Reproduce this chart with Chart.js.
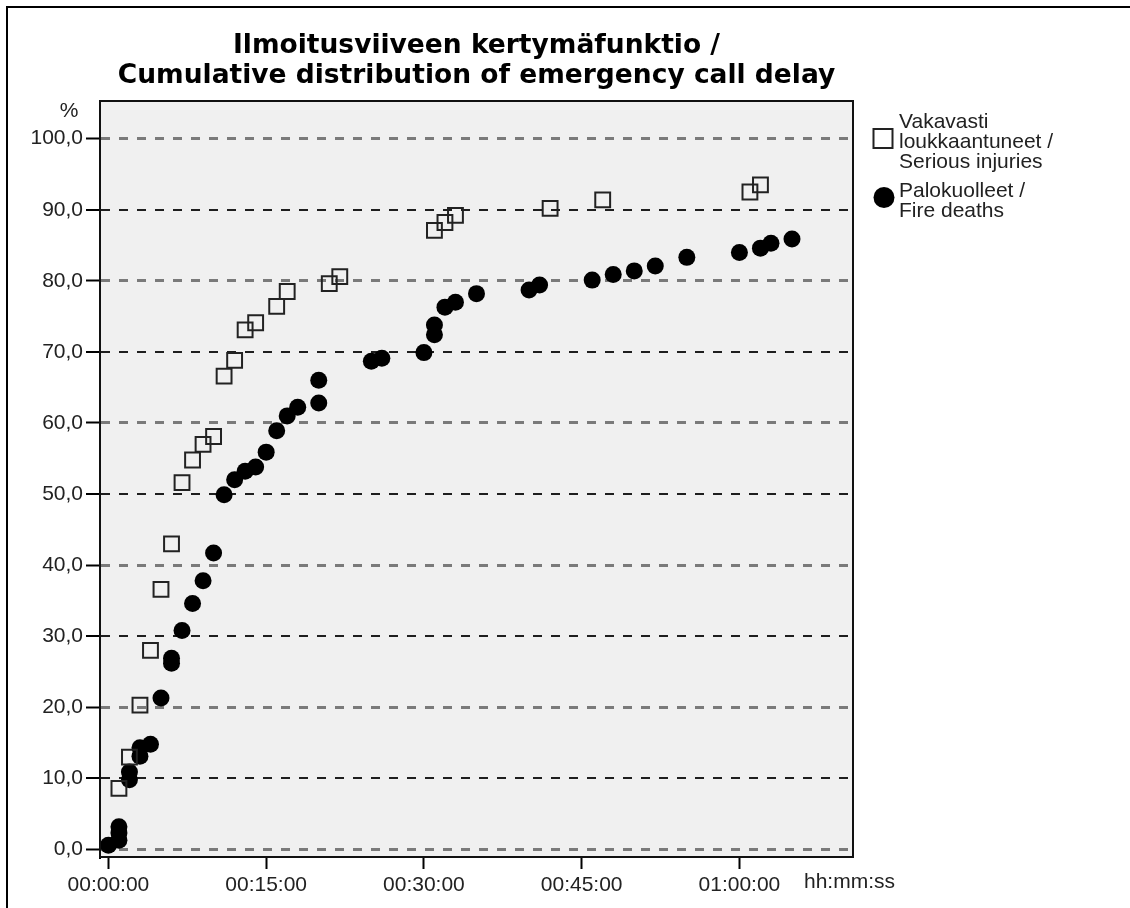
<!DOCTYPE html>
<html><head><meta charset="utf-8">
<script src="https://cdn.jsdelivr.net/npm/chart.js@4"></script>
<style>
html,body{margin:0;padding:0;overflow:hidden;background:#fff;}
#frame{position:absolute;left:6px;top:6px;width:2000px;height:2000px;border:2px solid #000;}
#wrap{position:absolute;left:0;top:0;width:1130px;height:908px;}
</style></head><body>
<div id="frame"></div>
<div id="wrap"><canvas id="c" width="1130" height="908"></canvas></div>
<script>
const titleLines = ['Ilmoitusviiveen kertymäfunktio /', 'Cumulative distribution of emergency call delay'];
const seriesNames = ['Vakavasti\nloukkaantuneet /\nSerious injuries', 'Palokuolleet /\nFire deaths'];
const yUnitLabel = '%';
const xUnitLabel = 'hh:mm:ss';

// delay in minutes, cumulative percent
const injuryMinutes = [1,2,3,4,5,6,7,8,9,10,11,12,13,14,16,17,21,22,31,32,33,42,47,61,62];
const injuryPercent = [8.6,13.0,20.3,28.0,36.6,43.0,51.6,54.8,57.0,58.1,66.6,68.8,73.1,74.1,76.4,78.5,79.6,80.6,87.1,88.2,89.2,90.2,91.4,92.5,93.5];

const deathMinutes = [0,1,1,1,2,2,3,3,4,5,6,6,7,8,9,10,11,12,13,14,15,16,17,18,20,20,25,26,30,31,31,32,33,35,40,41,46,48,50,52,55,60,62,63,65];
const deathPercent = [0.6,1.3,2.3,3.2,9.8,10.9,13.1,14.3,14.8,21.3,26.2,26.9,30.8,34.6,37.8,41.7,49.9,52.0,53.2,53.8,55.9,58.9,61.0,62.2,62.8,66.0,68.7,69.1,69.9,72.4,73.8,76.3,77.0,78.2,78.7,79.4,80.1,80.9,81.4,82.1,83.3,84.0,84.6,85.3,85.9];

const yTicks = [0,10,20,30,40,50,60,70,80,90,100];
const xTicks = [0,15,30,45,60];

const TITLE_FONT = 'DejaVu Sans';
const FONT = 'Liberation Sans';
const TEXT = '#222';

function fmtTime(min){
  const s = Math.round(min*60);
  const p = n => String(n).padStart(2,'0');
  return p(Math.floor(s/3600)) + ':' + p(Math.floor((s%3600)/60)) + ':' + p(s%60);
}

const decor = {
  id: 'decor',
  beforeDraw(chart){
    const {ctx, chartArea:a} = chart;
    ctx.save();
    ctx.fillStyle = '#f0f0f0';
    ctx.fillRect(a.left, a.top, a.right - a.left, a.bottom - a.top);
    ctx.restore();
  },
  afterDraw(chart){
    const {ctx, chartArea:a} = chart;
    ctx.save();
    ctx.strokeStyle = '#111';
    ctx.lineWidth = 2;
    ctx.strokeRect(a.left, a.top, a.right - a.left, a.bottom - a.top);

    ctx.font = '21px "' + FONT + '"';
    ctx.fillStyle = TEXT;
    ctx.textBaseline = 'alphabetic';
    ctx.textAlign = 'center';
    ctx.fillText(yUnitLabel, a.left - 31, a.top + 16);
    ctx.textAlign = 'left';
    ctx.fillText(xUnitLabel, a.right - 49, a.bottom + 31);

    // legend
    const lineH = 20, gap = 9;
    let base = a.top + 27;
    const mx = a.right + 30;
    chart.data.datasets.forEach(ds => {
      const lines = ds.label.split('\n');
      const first = base, last = base + (lines.length - 1) * lineH;
      const cy = (first + last) / 2 - 9.5;
      if (ds.pointStyle === 'rect') {
        ctx.strokeStyle = '#222'; ctx.lineWidth = 2;
        ctx.strokeRect(mx - 9.5, cy - 9.5, 19, 19);
      } else {
        ctx.fillStyle = '#000';
        ctx.beginPath(); ctx.arc(mx + 1, cy, 10.5, 0, Math.PI * 2); ctx.fill();
      }
      ctx.fillStyle = TEXT;
      lines.forEach((t, i) => ctx.fillText(t, mx + 16, base + i * lineH));
      base = last + lineH + gap;
    });
    ctx.restore();
  }
};

new Chart(document.getElementById('c'), {
  type: 'scatter',
  data: {
    datasets: [
      {
        label: seriesNames[0],
        data: injuryMinutes.map((m, i) => ({x: m, y: injuryPercent[i]})),
        pointStyle: 'rect',
        pointRadius: 10.5,
        pointBorderWidth: 2,
        borderColor: '#222',
        backgroundColor: 'rgba(0,0,0,0)',
        showLine: false
      },
      {
        label: seriesNames[1],
        data: deathMinutes.map((m, i) => ({x: m, y: deathPercent[i]})),
        pointStyle: 'circle',
        pointRadius: 8.5,
        pointBorderWidth: 0,
        borderColor: '#000',
        backgroundColor: '#000',
        showLine: false
      }
    ]
  },
  options: {
    responsive: false,
    animation: false,
    events: [],
    layout: {padding: {left: 0, top: 0, right: 277, bottom: 0}},
    plugins: {
      legend: {display: false},
      tooltip: {enabled: false},
      title: {
        display: true,
        fullSize: false,
        text: titleLines,
        color: '#000',
        font: {family: TITLE_FONT, size: 26.5, weight: 'bold', lineHeight: '30px'},
        padding: {top: 31, bottom: 10}
      }
    },
    scales: {
      x: {
        type: 'linear',
        min: -0.8, max: 70.8,
        afterBuildTicks: s => { s.ticks = xTicks.map(v => ({value: v})); },
        afterFit: s => { s.height = 51; },
        ticks: {
          callback: v => fmtTime(v),
          font: {family: FONT, size: 21},
          color: TEXT,
          padding: 4,
          maxRotation: 0,
          autoSkip: false
        },
        grid: {drawOnChartArea: false, drawTicks: true, tickLength: 12, tickColor: '#000', tickWidth: 2},
        border: {display: true, color: '#000', width: 2}
      },
      y: {
        type: 'linear',
        min: -1.06, max: 105.3,
        afterBuildTicks: s => { s.ticks = yTicks.map(v => ({value: v})); },
        afterFit: s => { s.width = 100; },
        ticks: {
          callback: v => v.toFixed(1).replace('.', ','),
          font: {family: FONT, size: 21},
          color: TEXT,
          padding: 3
        },
        grid: {
          color: c => (c.tick && c.tick.value % 20 === 0) ? '#7a7a7a' : '#1e1e1e',
          lineWidth: c => (c.tick && c.tick.value % 20 === 0) ? 3 : 2,
          drawTicks: true, tickLength: 14, tickColor: '#000', tickWidth: 2, tickBorderDash: []
        },
        border: {display: true, color: '#000', width: 2, dash: [9, 9]}
      }
    }
  },
  plugins: [decor]
});
</script>
</body></html>
